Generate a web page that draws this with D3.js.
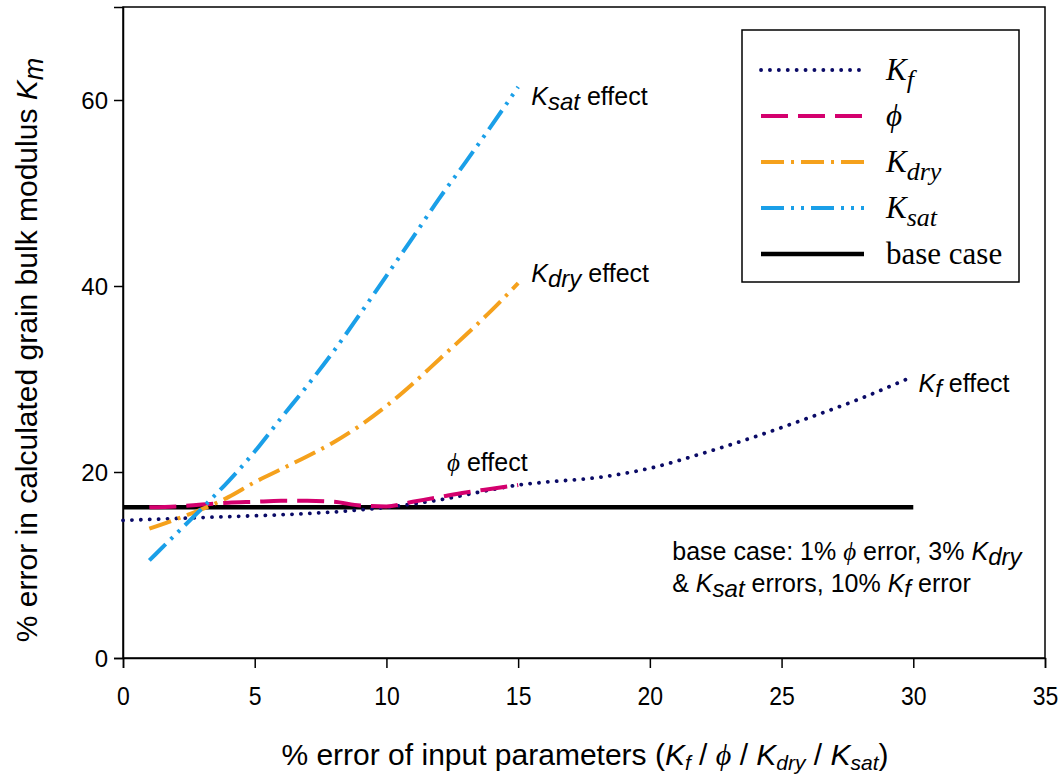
<!DOCTYPE html>
<html>
<head>
<meta charset="utf-8">
<script src="https://cdn.jsdelivr.net/npm/d3@7"></script>
<style>
  body { margin: 0; background: #fff; }
  svg { display: block; }
</style>
</head>
<body>
<div id="chart"></div>
<script>
// values
const kfX = [0, 2, 4, 6, 8, 10, 12, 14, 15, 16, 18, 20, 22, 24, 26, 28, 30];
const kfY = [14.8, 15.0, 15.2, 15.4, 15.7, 16.2, 17.0, 18.1, 18.6, 18.9, 19.4, 20.4, 22.0, 23.8, 25.8, 27.9, 30.3];

const phiX = [1, 2, 3, 4, 5, 6, 7, 8, 9, 10, 11, 12, 13, 14, 15];
const phiY = [16.2, 16.3, 16.5, 16.7, 16.8, 16.9, 16.9, 16.8, 16.4, 16.3, 16.8, 17.3, 17.8, 18.2, 18.6];

const kdryX = [1, 2, 3, 4, 5, 6, 7, 8, 9, 10, 11, 12, 13, 14, 15];
const kdryY = [13.9, 14.9, 16.0, 17.3, 18.9, 20.3, 21.7, 23.2, 25.0, 27.1, 29.5, 32.1, 34.7, 37.4, 40.3];

const ksatX = [1, 2, 3, 4, 5, 6, 7, 8, 9, 10, 11, 12, 13, 14, 15];
const ksatY = [10.5, 13.3, 16.1, 19.0, 22.2, 25.8, 29.3, 33.0, 37.0, 41.1, 45.2, 49.4, 53.3, 57.3, 61.4];

const baseX = [0, 30];
const baseY = [16.2, 16.2];

const xTicks = [0, 5, 10, 15, 20, 25, 30, 35];
const yTicks = [0, 20, 40, 60];

const PHI = '\u03D5';

const margin = {top: 7, right: 18, bottom: 122, left: 123};
const width = 1063 - margin.left - margin.right;
const height = 780 - margin.top - margin.bottom;

const xScale = d3.scaleLinear().domain([0, 35]).range([0, width]);
const yScale = d3.scaleLinear().domain([0, 70]).range([height, 0]);

const series = [
    {key: 'kf', xs: kfX, ys: kfY, color: '#0a0a66', width: 3.8, dash: '0.1 8.8', cap: 'round', label: ['K', 'f']},
    {key: 'phi', xs: phiX, ys: phiY, color: '#d4006e', width: 4, dash: '27 10', cap: 'butt', label: [PHI, '']},
    {key: 'kdry', xs: kdryX, ys: kdryY, color: '#f5a11c', width: 4, dash: '23 7 3 7', cap: 'butt', label: ['K', 'dry']},
    {key: 'ksat', xs: ksatX, ys: ksatY, color: '#1a9fe8', width: 4, dash: '23 7 3 7 3 7', cap: 'butt', label: ['K', 'sat']},
    {key: 'base', xs: baseX, ys: baseY, color: '#000000', width: 4.5, dash: null, cap: 'butt', label: ['base case', '']}
];

const sans = 'Liberation Sans, Arial, sans-serif';
const serif = 'Liberation Serif, Times New Roman, serif';

const svg = d3.select('#chart')
    .append('svg')
    .attr('width', 1063)
    .attr('height', 780);

const chart = svg.append('g')
    .attr('transform', `translate(${margin.left},${margin.top})`);

// frame
chart.append('rect')
    .attr('width', width)
    .attr('height', height)
    .attr('fill', 'none')
    .attr('stroke', '#000')
    .attr('stroke-width', 1.5);

const yAxis = chart.append('g')
    .call(d3.axisLeft(yScale).tickValues(yTicks).tickSize(9).tickPadding(6));
yAxis.selectAll('text')
    .style('font-family', sans)
    .style('font-size', '24px')
    .attr('dy', '0.36em')
    .attr('fill', '#000');

const xAxis = chart.append('g')
    .attr('transform', `translate(0,${height})`)
    .call(d3.axisBottom(xScale).tickValues(xTicks).tickSize(10).tickPadding(6));
xAxis.selectAll('text')
    .style('font-family', sans)
    .style('font-size', '25px')
    .attr('dy', null)
    .attr('y', 47)
    .attr('transform', 'scale(0.92,1)')
    .attr('fill', '#000');

[yAxis, xAxis].forEach(ax => {
    ax.select('.domain').attr('stroke-width', 1.5);
    ax.selectAll('.tick line').attr('stroke-width', 1.5);
});

const line = d3.line()
    .x(d => xScale(d[0]))
    .y(d => yScale(d[1]))
    .curve(d3.curveMonotoneX);

// base case first so the curves sit over it where they cross
const drawOrder = ['base', 'kf', 'phi', 'kdry', 'ksat'];
drawOrder.forEach(k => {
    const s = series.find(d => d.key === k);
    const pts = s.xs.map((x, i) => [x, s.ys[i]]);
    chart.append('path')
        .datum(pts)
        .attr('fill', 'none')
        .attr('stroke', s.color)
        .attr('stroke-width', s.width)
        .attr('stroke-linecap', s.cap)
        .attr('stroke-dasharray', s.dash)
        .attr('d', line);
});

// annotations, placed in data units
function addLabel(x, y, parts, size) {
    const t = chart.append('text')
        .attr('x', xScale(x))
        .attr('y', yScale(y))
        .style('font-family', sans)
        .style('font-size', size + 'px')
        .attr('fill', '#000');
    parts.forEach(p => {
        const ts = t.append('tspan').text(p.t);
        if (p.i) ts.style('font-style', 'italic');
        if (p.serif) ts.style('font-family', serif);
        if (p.sub) ts.attr('baseline-shift', '-22%').style('font-size', (size - 1) + 'px');
    });
    return t;
}

addLabel(15.5, 59.5, [{t: 'K', i: true}, {t: 'sat', i: true, sub: true}, {t: ' effect'}], 25);
addLabel(15.5, 40.4, [{t: 'K', i: true}, {t: 'dry', i: true, sub: true}, {t: ' effect'}], 25);
addLabel(12.3, 20.1, [{t: PHI, i: true, serif: true}, {t: ' effect'}], 25);
addLabel(30.2, 28.6, [{t: 'K', i: true}, {t: 'f', i: true, sub: true}, {t: ' effect'}], 25);
addLabel(20.85, 10.5, [{t: 'base case: 1% '}, {t: PHI, i: true, serif: true}, {t: ' error, 3% '}, {t: 'K', i: true}, {t: 'dry', i: true, sub: true}], 25);
addLabel(20.85, 7.1, [{t: '& '}, {t: 'K', i: true}, {t: 'sat', i: true, sub: true}, {t: ' errors, 10% '}, {t: 'K', i: true}, {t: 'f', i: true, sub: true}, {t: ' error'}], 25);

// legend
const legend = svg.append('g').attr('transform', 'translate(742,30)');
legend.append('rect')
    .attr('width', 277)
    .attr('height', 252)
    .attr('fill', '#fff')
    .attr('stroke', '#000')
    .attr('stroke-width', 1.5);

const rows = legend.selectAll('g.row')
    .data(series)
    .enter()
    .append('g')
    .attr('class', 'row')
    .attr('transform', (d, i) => `translate(0,${40 + i * 46})`);

rows.append('line')
    .attr('x1', 19).attr('x2', 122)
    .attr('stroke', d => d.color)
    .attr('stroke-width', d => d.width)
    .attr('stroke-linecap', d => d.cap)
    .attr('stroke-dasharray', d => d.dash);

rows.append('text')
    .attr('x', 144)
    .attr('y', 10)
    .style('font-family', serif)
    .style('font-size', '31px')
    .attr('fill', '#000')
    .each(function (d) {
        const t = d3.select(this);
        const main = t.append('tspan').text(d.label[0]);
        if (d.key !== 'base') main.style('font-style', 'italic');
        if (d.label[1]) {
            t.append('tspan')
                .text(d.label[1])
                .style('font-style', 'italic')
                .style('font-size', '26px')
                .attr('baseline-shift', '-30%');
        }
    });

// axis titles
const yTitle = svg.append('text')
    .attr('transform', `translate(37,350) rotate(-90)`)
    .attr('text-anchor', 'middle')
    .style('font-family', sans)
    .style('font-size', '30px')
    .attr('fill', '#000');
yTitle.append('tspan').text('% error in calculated grain bulk modulus ');
yTitle.append('tspan').text('K').style('font-style', 'italic');
yTitle.append('tspan').text('m').style('font-style', 'italic').style('font-size', '27px').attr('baseline-shift', '-22%');

const xTitle = svg.append('text')
    .attr('x', 585)
    .attr('y', 765)
    .attr('text-anchor', 'middle')
    .style('font-family', sans)
    .style('font-size', '30px')
    .attr('fill', '#000');
const xParts = [
    {t: '% error of input parameters ('},
    {t: 'K', i: true}, {t: 'f', i: true, sub: true},
    {t: ' / '}, {t: PHI, i: true, serif: true}, {t: ' / '},
    {t: 'K', i: true}, {t: 'dry', i: true, sub: true},
    {t: ' / '},
    {t: 'K', i: true}, {t: 'sat', i: true, sub: true},
    {t: ')'}
];
xParts.forEach(p => {
    const ts = xTitle.append('tspan').text(p.t);
    if (p.i) ts.style('font-style', 'italic');
    if (p.serif) ts.style('font-family', serif);
    if (p.sub) ts.style('font-size', '21px').attr('baseline-shift', '-25%');
});
</script>
</body>
</html>
